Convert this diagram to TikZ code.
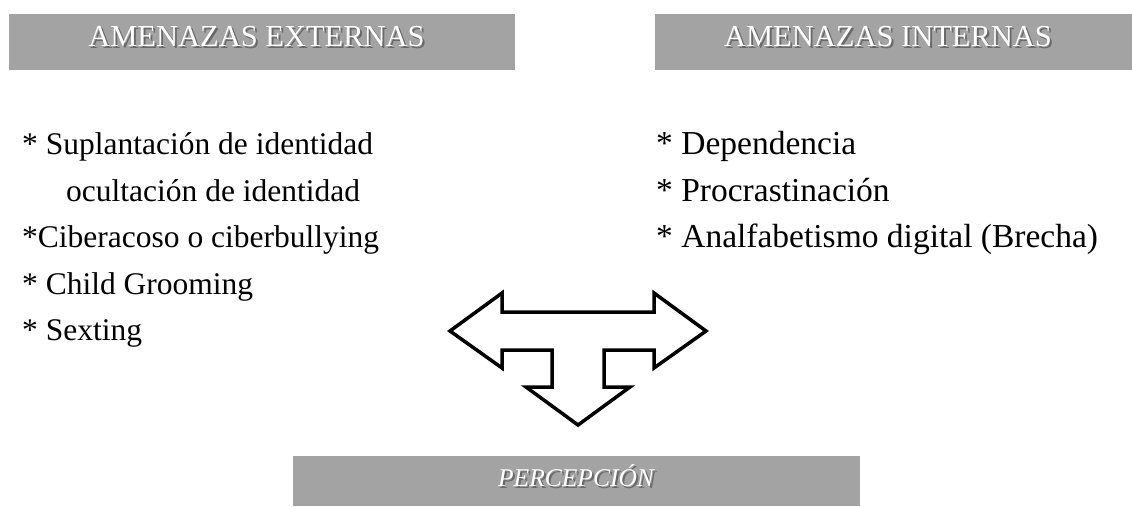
\documentclass[tikz,border=0pt]{standalone}
\usepackage{fontspec}
\setmainfont{Liberation Serif}
\definecolor{boxgray}{RGB}{163,163,163}
\definecolor{shadowgray}{RGB}{105,105,105}
\tikzset{
  hbox/.style={fill=boxgray, draw=none, inner sep=0pt},
  htitle/.style={text=white, inner sep=0pt, font=\fontsize{30.5}{34}\selectfont},
  hshadow/.style={text=shadowgray, inner sep=0pt, font=\fontsize{30.5}{34}\selectfont},
  item/.style={anchor=base west, inner sep=0pt, font=\fontsize{31.5}{36}\selectfont},
  ritem/.style={anchor=base west, inner sep=0pt, font=\fontsize{33.5}{38}\selectfont},
  bigarrow/.style={draw=black, line width=3.5pt, fill=white, line join=miter}
}
\begin{document}
\begin{tikzpicture}[x=1pt,y=-1pt]
\useasboundingbox (0,0) rectangle (1132,506);
% header boxes
\node[hbox, minimum width=506pt, minimum height=56pt] (ext) at (262,42) {};
\node[hbox, minimum width=477pt, minimum height=56pt] (int) at (893.5,42) {};
\node[hbox, minimum width=567pt, minimum height=50pt] (per) at (576.5,481) {};
% titles with shadow
\node[hshadow] (extS) at (258.5,39) {AMENAZAS EXTERNAS};
\node[htitle] (extT) at (256.5,37) {AMENAZAS EXTERNAS};
\node[hshadow] (intS) at (890,39) {AMENAZAS INTERNAS};
\node[htitle] (intT) at (888,37) {AMENAZAS INTERNAS};
\node[hshadow, font=\fontsize{25.5}{30}\selectfont\itshape] (perS) at (578,478) {PERCEPCIÓN};
\node[htitle, font=\fontsize{25.5}{30}\selectfont\itshape] (perT) at (576,476) {PERCEPCIÓN};
% left items
\node[item] (l1) at (22,154) {* Suplantación de identidad};
\node[item] (l2) at (66,201) {ocultación de identidad};
\node[item] (l3) at (22,247) {*Ciberacoso o ciberbullying};
\node[item] (l4) at (22,294) {* Child Grooming};
\node[item] (l5) at (22,340) {* Sexting};
% right items
\node[ritem] (r1) at (656,154) {* Dependencia};
\node[ritem] (r2) at (656,201) {* Procrastinación};
\node[ritem] (r3) at (656,247) {* Analfabetismo digital (Brecha)};
% T-shaped arrow
\draw[bigarrow] (450,331) -- (502,293) -- (502,312) -- (654,312) -- (654,293)
  -- (706,331) -- (654,368) -- (654,350) -- (604,350) -- (604,387)
  -- (630,387) -- (578,425) -- (526,387) -- (552,387) -- (552,350)
  -- (502,350) -- (502,368) -- cycle;
\end{tikzpicture}
\end{document}
